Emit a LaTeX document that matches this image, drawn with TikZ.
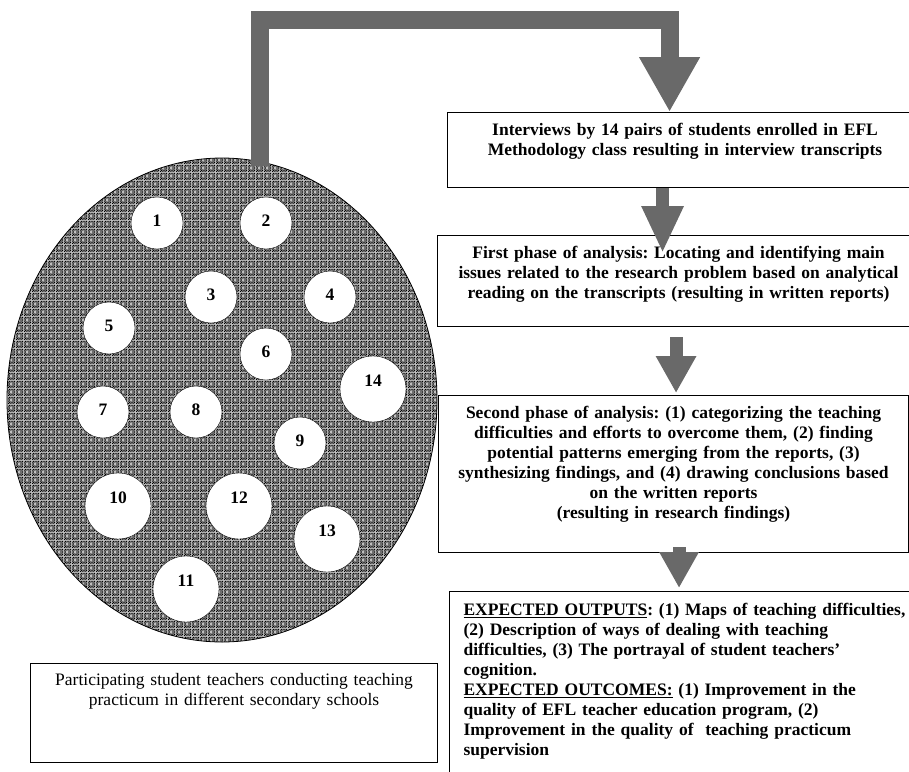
\documentclass[tikz,border=0pt]{standalone}
\usepackage{fontspec}
\setmainfont{Liberation Serif}
\frenchspacing
\usetikzlibrary{shapes.geometric,arrows.meta,patterns}
\definecolor{arrowgray}{HTML}{696969}
\pgfdeclarepatternformonly{dotcheck}{\pgfpointorigin}{\pgfqpoint{8pt}{8pt}}{\pgfqpoint{8pt}{8pt}}{%
  \foreach \i in {0,...,7}{%
    \foreach \j in {0,...,7}{%
      \pgfmathtruncatemacro\d{abs(\i-3)+abs(\j-4)}%
      \pgfmathtruncatemacro\p{mod(\i+\j,2)}%
      \ifnum\p=0 \ifnum\d>1
        \pgfpathrectangle{\pgfpoint{\i*1pt}{\j*1pt}}{\pgfpoint{1pt}{1pt}}%
        \pgfusepath{fill}%
      \fi\fi
    }%
  }%
}
\begin{document}
\begin{tikzpicture}[x=1pt,y=-1pt,
  box/.style={draw,line width=1.1pt,inner xsep=0pt,inner ysep=9pt,anchor=north west,align=center,text height=14pt,font=\fontsize{17.5}{20}\selectfont\bfseries},
  seat/.style={circle,draw,fill=white,inner sep=0pt,minimum size=52pt,text depth=4pt,font=\fontsize{17.5}{20}\selectfont\bfseries},
  bigseat/.style={seat,minimum size=66pt,text depth=16pt},
  flow/.style={arrowgray,line width=13pt,-{Triangle[width=39pt,length=37pt]}}]
\useasboundingbox (0,0) rectangle (909,771);
\node[ellipse,draw,line width=0.8pt,preaction={fill=black!25},pattern=dotcheck,minimum width=430pt,minimum height=484pt] (school) at (222,400) {};
\foreach \n/\x/\y in {1/157/223,2/266/223,3/211/297,4/330/297,5/109/328,6/266/354,7/103/412,8/196/412,9/300/443}
  \node[seat] (s\n) at (\x,\y) {\n};
\foreach \n/\x/\y in {10/118/506,11/186/589,12/239/506,13/327/539,14/373/389}
  \node[bigseat] (s\n) at (\x,\y) {\n};
\node[box,text width=475pt,text depth=43pt] (interview) at (447,112) {Interviews by 14 pairs of students enrolled in EFL\\ Methodology class resulting in interview transcripts};
\node[box,text width=482pt,text depth=59pt] (first) at (437,235) {First phase of analysis: Locating and identifying main\\ issues related to the research problem based on analytical\\ reading on the transcripts (resulting in written reports)};
\node[box,text width=470pt,text depth=125pt] (second) at (438,395) {Second phase of analysis: (1) categorizing the teaching\\ difficulties and efforts to overcome them, (2) finding\\ potential patterns emerging from the reports, (3)\\ synthesizing findings, and (4) drawing conclusions based\\ on the written reports\\ (resulting in research findings)};
\node[box,align=left,inner xsep=14pt,text width=460pt,text height=15pt,text depth=166pt] (outputs) at (449,591) {\underline{EXPECTED OUTPUTS}: (1) Maps of teaching difficulties,\\ (2) Description of ways of dealing with teaching\\ difficulties, (3) The portrayal of student teachers’\\ cognition.\\ \underline{EXPECTED OUTCOMES:} (1) Improvement in the\\ quality of EFL teacher education program, (2)\\ Improvement in the quality of\ \ teaching practicum\\ supervision};
\node[box,font=\fontsize{17.5}{20}\selectfont,text width=407pt,text height=13pt,text depth=68pt] (participants) at (30,663) {Participating student teachers conducting teaching\\ practicum in different secondary schools};
\draw[flow,line width=18pt,line join=miter,-{Triangle[width=57pt,length=55pt]}] ([xshift=38pt,yshift=-8pt]school.north) |- ([xshift=-15.5pt,yshift=92.5pt]interview.north) -- ([xshift=-15.5pt]interview.north);
\draw[flow,-{Triangle[width=39pt,length=47pt]}] ([xshift=-22.5pt]interview.south) -- ([xshift=-16pt,yshift=-18pt]first.north);
\draw[flow,-{Triangle[width=38pt,length=37pt]}] ([xshift=-2.5pt,yshift=-10pt]first.south) -- ([xshift=2.5pt,yshift=2pt]second.north);
\draw[flow,-{Triangle[width=37pt,length=36pt]}] ([xshift=5.5pt,yshift=6pt]second.south) -- ([xshift=-14.5pt,yshift=3pt]outputs.north);
\end{tikzpicture}
\end{document}
